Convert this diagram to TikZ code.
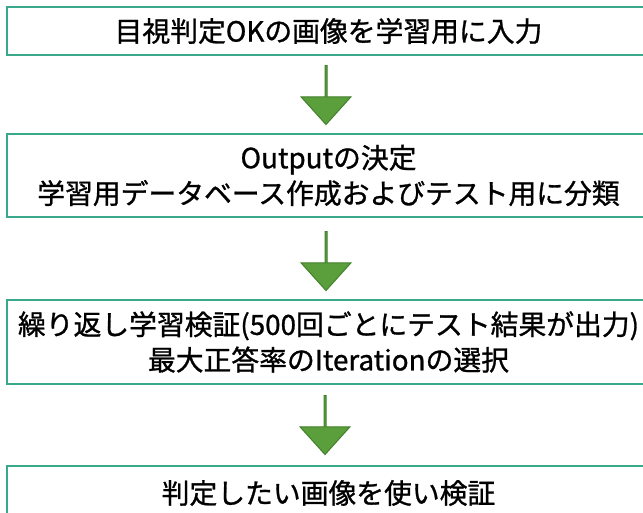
\documentclass[tikz,border=0pt]{standalone}
\usepackage{fontspec}
\setmainfont[FakeBold=1]{Noto Sans CJK JP}
\usetikzlibrary{shapes.arrows}
\definecolor{boxline}{HTML}{3AA98B}
\definecolor{arrfill}{HTML}{5A9F3C}
\definecolor{arrline}{HTML}{43802C}
\tikzset{
  stepbox/.style={draw=boxline, line width=1.8pt, fill=white, minimum width=643pt,
    align=center, inner sep=0pt, font=\fontsize{27.8}{35.5}\selectfont},
  downarrow/.style={single arrow, draw=arrline, line width=1pt, fill=arrfill,
    minimum height=59pt, minimum width=50pt, single arrow head extend=12pt,
    single arrow tip angle=84, shape border rotate=270, inner sep=0pt}
}
\begin{document}
\begin{tikzpicture}[x=1pt,y=-1pt]
\useasboundingbox (0,0) rectangle (643,513);
\clip (0,0) rectangle (643,513);
\fill[white] (0,0) rectangle (643,513);
\node[stepbox, minimum height=48pt] (b1) at (328.5,31) {目視判定OKの画像を学習用に入力};
\node[stepbox, minimum height=83pt] (b2) at (328.5,175.5) {Outputの決定\\学習用データベース作成およびテスト用に分類};
\node[stepbox, minimum height=84pt] (b3) at (328.5,342) {繰り返し学習検証(500回ごとにテスト結果が出力)\\最大正答率のIterationの選択};
\node[stepbox, minimum height=54pt] (b4) at (328.5,493) {判定したい画像を使い検証};
\node[downarrow] (a1) at (326,94.5) {};
\node[downarrow] (a2) at (326,260.5) {};
\node[downarrow] (a3) at (325,424.5) {};
\end{tikzpicture}
\end{document}
